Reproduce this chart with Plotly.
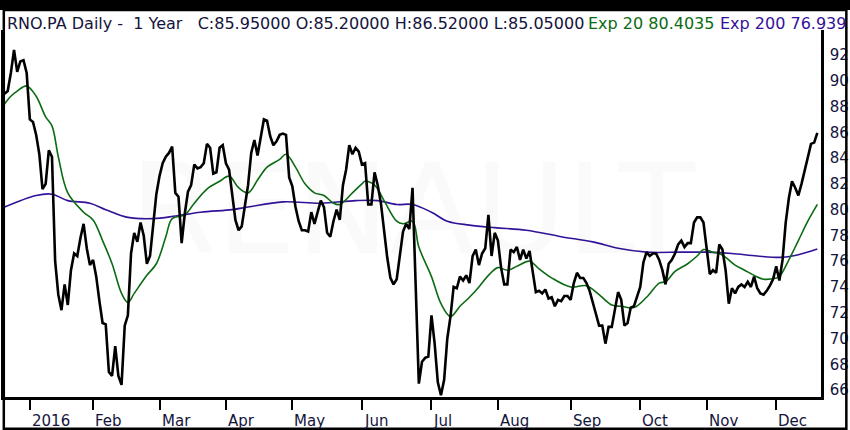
import pandas as pd
import plotly.graph_objects as go

# daily closes, RNO.PA, from 2015-12-21 to 2016-12-20 (one per session)
close = [
    89.0, 89.2, 90.6, 92.4, 90.7, 91.5, 91.6, 90.6, 87.0, 86.8,
    85.8, 84.3, 81.6, 82.0, 84.6, 84.1, 76.0, 73.4, 72.2, 74.2,
    72.6, 75.3, 76.6, 76.4, 77.8, 78.9, 77.0, 75.7, 76.1, 74.8,
    72.9, 71.2, 71.1, 67.4, 67.1, 69.4, 67.1, 66.4, 71.0, 71.8,
    76.6, 78.2, 77.5, 79.0, 78.0, 75.8, 76.4, 79.0, 81.2, 82.6,
    83.6, 84.1, 84.4, 84.9, 81.3, 81.0, 77.4, 79.7, 81.4, 81.9,
    83.5, 83.2, 83.3, 83.6, 85.1, 84.8, 82.8, 82.9, 84.8, 85.0,
    83.6, 83.1, 81.0, 79.2, 78.4, 78.7, 80.3, 81.9, 84.4, 85.4,
    84.2, 85.5, 87.0, 86.9, 85.7, 85.0, 85.3, 85.8, 85.9, 85.8,
    82.5, 81.8, 80.2, 79.1, 78.4, 78.4, 78.3, 79.8, 78.9, 79.8,
    80.7, 80.2, 78.2, 77.9, 79.1, 80.0, 79.2, 81.9, 83.1, 85.0,
    84.3, 84.8, 84.5, 83.5, 83.6, 80.4, 80.4, 82.9, 81.9, 80.5,
    78.4, 76.3, 74.7, 74.2, 74.6, 76.4, 78.3, 78.9, 78.5, 81.7,
    74.5, 66.5, 68.2, 68.5, 68.6, 71.8, 69.6, 66.6, 65.6, 66.8,
    70.0, 71.7, 74.0, 73.9, 74.8, 74.5, 74.9, 74.3, 76.4, 76.9,
    75.7, 76.6, 77.0, 79.6, 76.4, 78.2, 77.6, 75.5, 74.2, 74.2,
    76.9, 76.7, 77.1, 76.1, 76.9, 76.2, 76.8, 75.0, 73.6, 73.7,
    73.5, 73.8, 73.1, 73.2, 72.5, 73.0, 72.9, 73.3, 73.3, 73.0,
    74.3, 75.1, 74.7, 74.7, 74.3, 73.7, 72.7, 71.9, 71.0, 71.0,
    69.6, 70.9, 70.9, 72.2, 73.6, 73.0, 71.0, 71.2, 72.4, 72.5,
    73.2, 74.0, 75.9, 76.7, 76.4, 76.6, 76.6, 76.1, 75.3, 74.2,
    75.8, 76.1, 76.6, 77.3, 77.6, 77.1, 77.4, 77.4, 79.0, 79.4,
    79.4, 79.0, 77.0, 75.0, 75.3, 75.1, 77.3, 76.9, 75.3, 72.7,
    73.9, 73.5, 74.0, 74.2, 74.0, 74.4, 74.0, 74.8, 73.9, 73.5,
    73.4, 73.7, 74.1, 74.6, 75.6, 74.5, 76.1, 79.0, 80.9, 82.2,
    81.7, 81.1, 82.0, 83.0, 84.0, 85.1, 85.2, 85.95,
]

# exponential averages (session number, value)
ema20_at = [0, 2, 4, 7, 10, 13, 15, 17, 20, 25, 28, 31, 34, 37, 39, 41, 45, 48,
            51, 53, 57, 60, 64, 68, 71, 74, 77, 80, 83, 87, 89, 92, 95, 98, 101,
            104, 106, 110, 113, 114, 117, 120, 124, 126, 129, 131, 135, 138, 141,
            144, 147, 150, 153, 156, 159, 162, 166, 169, 173, 179, 184, 188, 192,
            195, 199, 203, 207, 209, 212, 216, 219, 221, 224, 226, 228, 231, 234,
            237, 240, 244, 245, 248, 251, 254, 257]
ema20 = [88.2, 88.8, 89.2, 89.6, 88.8, 87.2, 86.5, 84.1, 81.3, 79.8, 79.2, 77.6,
         75.8, 73.5, 72.8, 73.5, 74.9, 75.8, 77.9, 79.3, 79.6, 80.5, 81.6, 82.2,
         82.6, 81.7, 81.3, 82.3, 83.3, 83.9, 84.3, 83.3, 82.0, 81.3, 81.1, 80.5,
         80.4, 81.3, 82.0, 82.2, 81.9, 80.7, 79.1, 78.9, 79.1, 77.1, 74.8, 72.7,
         71.7, 72.5, 73.2, 74.0, 74.9, 75.5, 75.3, 75.6, 76.0, 75.4, 74.7, 74.0,
         74.1, 73.4, 72.6, 72.5, 72.4, 73.2, 74.3, 74.4, 75.2, 75.8, 76.4, 76.9,
         76.7, 76.6, 76.3, 75.7, 75.3, 74.9, 74.6, 74.7, 74.8, 76.1, 77.6, 79.1,
         80.4035]

ema200_at = [0, 10, 15, 20, 27, 32, 39, 47, 54, 62, 72, 77, 88, 100, 111, 118,
             124, 129, 135, 140, 147, 155, 165, 176, 186, 194, 203, 214, 222,
             230, 238, 246, 251, 257]
ema200 = [80.2, 81.1, 81.2, 80.7, 80.5, 80.0, 79.4, 79.3, 79.5, 79.8, 80.0, 80.2,
          80.6, 80.5, 80.7, 80.7, 80.4, 80.4, 79.8, 79.1, 78.8, 78.6, 78.4, 77.9,
          77.5, 77.0, 76.7, 76.7, 76.7, 76.6, 76.4, 76.3, 76.5, 76.939]

month_labels = ["2016", "Feb", "Mar", "Apr", "May", "Jun", "Jul", "Aug", "Sep",
                "Oct", "Nov", "Dec"]
y_ticks = list(range(66, 93, 2))

holidays = ["2015-12-25", "2016-01-01", "2016-03-25", "2016-03-28"]
dates = [d.strftime("%Y-%m-%d") for d in pd.bdate_range("2015-12-21", "2016-12-20")]
dates = [d for d in dates if d not in holidays]

# first session of every month of 2016
month_starts = [d for prev, d in zip(dates, dates[1:])
                if d[:7] != prev[:7] and d.startswith("2016")]

FONT = "DejaVu Sans"
NAVY = "#14143c"
GREEN = "#0b6b12"
PURPLE = "#33129a"

# plot area in pixels: x 1..823, y 30..397
def px(x):
    return (x - 1) / 822.0

def py(y):
    return (397 - y) / 367.0

fig = go.Figure()

fig.add_trace(go.Scatter(x=[dates[k] for k in ema200_at], y=ema200, mode='lines',
                         line=dict(color=PURPLE, width=1.6, shape='spline')))
fig.add_trace(go.Scatter(x=[dates[k] for k in ema20_at], y=ema20, mode='lines',
                         line=dict(color=GREEN, width=1.6, shape='spline')))
fig.add_trace(go.Scatter(x=dates, y=close, mode='lines',
                         line=dict(color='black', width=2.6)))

annotations = []
# faint watermark
annotations.append(dict(text="RENAULT", x=0.5, y=py(284), xref='paper', yref='paper',
                        showarrow=False, font=dict(family=FONT, size=125,
                                                   color='rgba(0,40,0,0.022)')))
# header
head = "RNO.PA Daily -\u00a0 1 Year \u00a0\u00a0C:85.95000 O:85.20000 H:86.52000 L:85.05000"
annotations.append(dict(text=head, x=px(2), y=py(23.5), xref='paper', yref='paper',
                        xanchor='left', yanchor='middle', showarrow=False,
                        font=dict(family=FONT, size=16, color=NAVY)))
annotations.append(dict(text="Exp 20 80.4035", x=px(587), y=py(23.5), xref='paper',
                        yref='paper', xanchor='left', yanchor='middle', showarrow=False,
                        font=dict(family=FONT, size=16, color=GREEN)))
annotations.append(dict(text="Exp 200 76.939", x=px(719), y=py(23.5), xref='paper',
                        yref='paper', xanchor='left', yanchor='middle', showarrow=False,
                        font=dict(family=FONT, size=16, color=PURPLE)))
# month labels sit to the right of their tick
for d, lab in zip(month_starts, month_labels):
    annotations.append(dict(text=lab, x=d, y=py(421), xref='x', yref='paper',
                            xanchor='left', yanchor='middle', showarrow=False,
                            font=dict(family=FONT, size=15, color=NAVY)))

shapes = [
    # black band at the very top
    dict(type='rect', xref='paper', yref='paper', x0=px(0), x1=px(850),
         y0=py(10), y1=py(0), fillcolor='black', line=dict(width=0), layer='above'),
    # outer frame
    dict(type='rect', xref='paper', yref='paper', x0=px(0.8), x1=px(848.5),
         y0=py(428.8), y1=py(10), line=dict(color='black', width=2.5), layer='above'),
]

fig.update_xaxes(type='category', categoryorder='array', categoryarray=dates,
                 range=[-0.17, 258.16], showline=True, linecolor='black', linewidth=2.5,
                 ticks='outside', tickvals=month_starts, ticklen=10, tickwidth=2,
                 tickcolor='black', showticklabels=False, showgrid=False, zeroline=False)
fig.update_yaxes(side='right', range=[65.46, 93.94], tickvals=y_ticks, ticks='',
                 showline=True, mirror=True, linecolor='black', linewidth=2.5,
                 showgrid=False, zeroline=False, ticklabelstandoff=3,
                 tickfont=dict(family=FONT, size=15, color=NAVY))

fig.update_layout(width=850, height=430, margin=dict(l=1, r=27, t=30, b=33),
                  paper_bgcolor='white', plot_bgcolor='white', showlegend=False,
                  annotations=annotations, shapes=shapes,
                  font=dict(family=FONT, color=NAVY))

page_js = (
    "document.body.style.margin='0';"
    "var band=document.createElement('div');"
    "band.style.cssText='position:fixed;left:0;top:0;width:850px;height:10px;"
    "background:#000;z-index:1000;';"
    "document.body.appendChild(band);"
)
fig.write_html("out.html", config={'displayModeBar': False}, post_script=page_js)
